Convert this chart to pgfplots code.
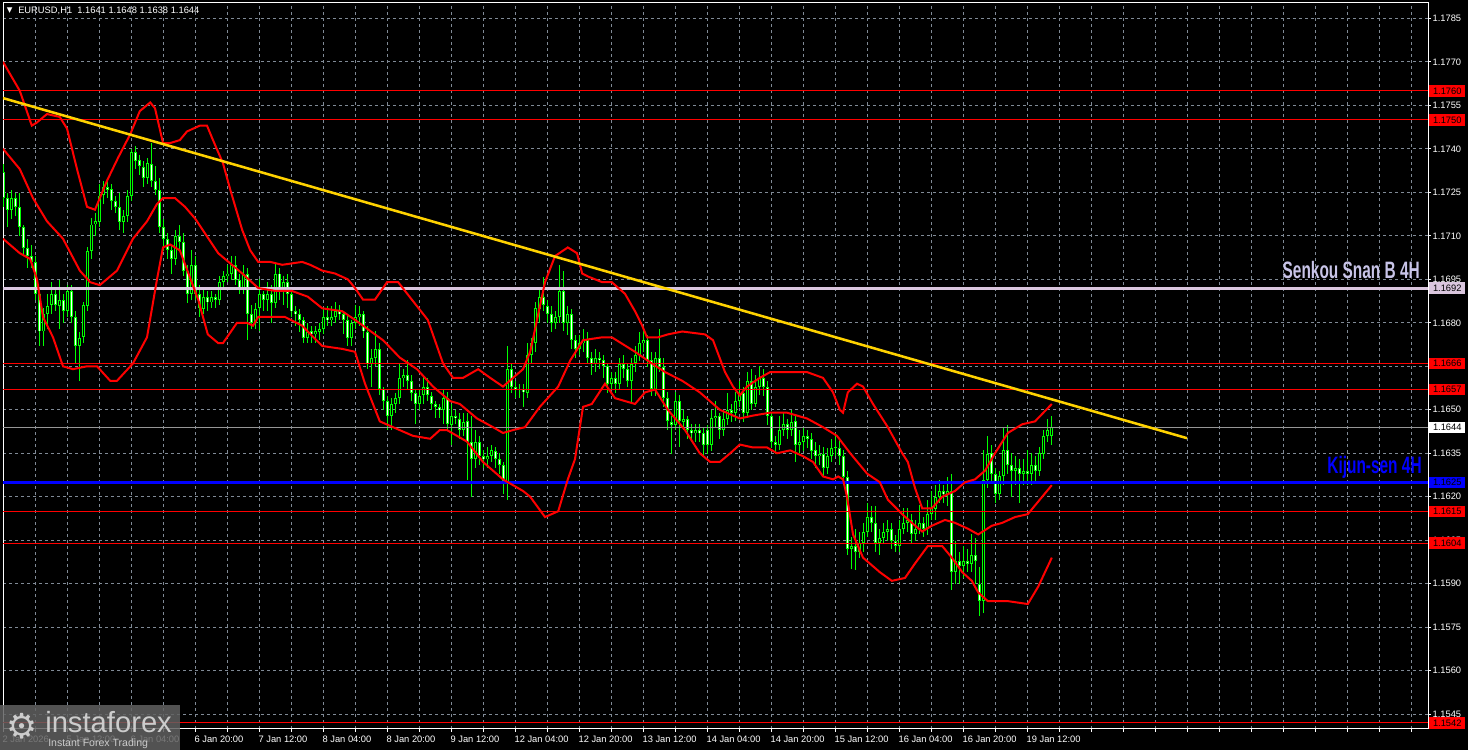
\documentclass[border=0pt]{standalone}
\usepackage{fontspec}
\setmainfont{Liberation Sans}
\newfontfamily\dejavu{DejaVu Sans}
\usepackage{pgfplots}
\usepackage{pgfplotstable}
\pgfplotsset{compat=1.18}

\definecolor{gridc}{RGB}{128,138,150}
\definecolor{candle}{RGB}{0,255,0}
\definecolor{mtred}{RGB}{255,0,0}
\definecolor{senkou}{RGB}{218,198,222}
\definecolor{senkoutxt}{RGB}{200,196,232}
\definecolor{kijun}{RGB}{0,0,255}
\definecolor{trend}{RGB}{255,210,0}
\definecolor{pricegray}{RGB}{150,150,150}

% EURUSD H1, bar index, open high low close
\pgfplotstableread{
i o h l c
0 1.1732 1.1735 1.1720 1.1723
1 1.1723 1.1725 1.1713 1.1719
2 1.1719 1.1726 1.1716 1.1723
3 1.1723 1.1725 1.1717 1.1720
4 1.1720 1.1725 1.1710 1.1713
5 1.1713 1.1714 1.1703 1.1706
6 1.1706 1.1709 1.1699 1.1703
7 1.1703 1.1707 1.1699 1.1701
8 1.1701 1.1703 1.1688 1.1690
9 1.1690 1.1692 1.1672 1.1677
10 1.1677 1.1685 1.1672 1.1683
11 1.1683 1.1690 1.1678 1.1686
12 1.1686 1.1694 1.1683 1.1690
13 1.1690 1.1692 1.1684 1.1686
14 1.1686 1.1695 1.1678 1.1688
15 1.1688 1.1690 1.1680 1.1684
16 1.1684 1.1693 1.1682 1.1691
17 1.1691 1.1693 1.1680 1.1682
18 1.1682 1.1684 1.1666 1.1672
19 1.1672 1.1677 1.1660 1.1675
20 1.1675 1.1687 1.1673 1.1686
21 1.1686 1.1706 1.1684 1.1705
22 1.1705 1.1716 1.1702 1.1714
23 1.1714 1.1718 1.1710 1.1715
24 1.1715 1.1728 1.1713 1.1724
25 1.1724 1.1729 1.1721 1.1727
26 1.1727 1.1729 1.1723 1.1726
27 1.1726 1.1728 1.1719 1.1722
28 1.1722 1.1724 1.1718 1.1720
29 1.1720 1.1725 1.1712 1.1715
30 1.1715 1.1719 1.1711 1.1717
31 1.1717 1.1726 1.1715 1.1724
32 1.1724 1.1740 1.1722 1.1739
33 1.1739 1.1741 1.1733 1.1736
34 1.1736 1.1738 1.1731 1.1734
35 1.1734 1.1736 1.1727 1.1730
36 1.1730 1.1737 1.1728 1.1735
37 1.1735 1.1742 1.1727 1.1729
38 1.1729 1.1734 1.1724 1.1726
39 1.1726 1.1730 1.1711 1.1713
40 1.1713 1.1716 1.1705 1.1709
41 1.1709 1.1711 1.1702 1.1705
42 1.1705 1.1707 1.1697 1.1702
43 1.1702 1.1712 1.1700 1.1710
44 1.1710 1.1714 1.1705 1.1708
45 1.1708 1.1711 1.1696 1.1698
46 1.1698 1.1700 1.1687 1.1690
47 1.1690 1.1705 1.1688 1.1700
48 1.1700 1.1703 1.1688 1.1690
49 1.1690 1.1693 1.1682 1.1685
50 1.1685 1.1692 1.1683 1.1689
51 1.1689 1.1691 1.1684 1.1687
52 1.1687 1.1691 1.1685 1.1689
53 1.1689 1.1690 1.1685 1.1688
54 1.1688 1.1696 1.1686 1.1694
55 1.1694 1.1698 1.1692 1.1696
56 1.1696 1.1700 1.1694 1.1697
57 1.1697 1.1703 1.1695 1.1700
58 1.1700 1.1703 1.1693 1.1695
59 1.1695 1.1697 1.1690 1.1692
60 1.1692 1.1700 1.1690 1.1697
61 1.1697 1.1699 1.1674 1.1683
62 1.1683 1.1686 1.1678 1.1680
63 1.1680 1.1687 1.1678 1.1685
64 1.1685 1.1695 1.1677 1.1690
65 1.1690 1.1691 1.1684 1.1688
66 1.1688 1.1694 1.1684 1.1690
67 1.1690 1.1693 1.1680 1.1687
68 1.1687 1.1701 1.1685 1.1697
69 1.1697 1.1699 1.1688 1.1692
70 1.1692 1.1696 1.1686 1.1694
71 1.1694 1.1697 1.1685 1.1690
72 1.1690 1.1692 1.1682 1.1684
73 1.1684 1.1686 1.1679 1.1683
74 1.1683 1.1685 1.1677 1.1681
75 1.1681 1.1682 1.1673 1.1675
76 1.1675 1.1680 1.1673 1.1677
77 1.1677 1.1679 1.1673 1.1676
78 1.1676 1.1679 1.1673 1.1677
79 1.1677 1.1680 1.1674 1.1678
80 1.1678 1.1685 1.1676 1.1682
81 1.1682 1.1686 1.1679 1.1681
82 1.1681 1.1686 1.1679 1.1682
83 1.1682 1.1687 1.1680 1.1684
84 1.1684 1.1686 1.1681 1.1683
85 1.1683 1.1684 1.1676 1.1681
86 1.1681 1.1683 1.1672 1.1675
87 1.1675 1.1681 1.1672 1.1680
88 1.1680 1.1686 1.1678 1.1682
89 1.1682 1.1686 1.1679 1.1683
90 1.1683 1.1684 1.1675 1.1677
91 1.1677 1.1679 1.1664 1.1666
92 1.1666 1.1671 1.1658 1.1668
93 1.1668 1.1677 1.1665 1.1671
94 1.1671 1.1673 1.1655 1.1657
95 1.1657 1.1658 1.1650 1.1653
96 1.1653 1.1655 1.1643 1.1648
97 1.1648 1.1654 1.1643 1.1652
98 1.1652 1.1656 1.1649 1.1654
99 1.1654 1.1666 1.1652 1.1661
100 1.1661 1.1664 1.1658 1.1662
101 1.1662 1.1667 1.1657 1.1660
102 1.1660 1.1662 1.1653 1.1656
103 1.1656 1.1657 1.1645 1.1652
104 1.1652 1.1657 1.1650 1.1655
105 1.1655 1.1662 1.1652 1.1658
106 1.1658 1.1661 1.1653 1.1655
107 1.1655 1.1656 1.1650 1.1652
108 1.1652 1.1653 1.1647 1.1651
109 1.1651 1.1652 1.1647 1.1650
110 1.1650 1.1657 1.1645 1.1654
111 1.1654 1.1656 1.1643 1.1645
112 1.1645 1.1652 1.1638 1.1648
113 1.1648 1.1650 1.1645 1.1647
114 1.1647 1.1649 1.1640 1.1643
115 1.1643 1.1649 1.1641 1.1646
116 1.1646 1.1649 1.1626 1.1639
117 1.1639 1.1648 1.1620 1.1633
118 1.1633 1.1643 1.1630 1.1639
119 1.1639 1.1641 1.1631 1.1634
120 1.1634 1.1636 1.1630 1.1633
121 1.1633 1.1637 1.1630 1.1634
122 1.1634 1.1638 1.1632 1.1636
123 1.1636 1.1637 1.1630 1.1633
124 1.1633 1.1635 1.1628 1.1631
125 1.1631 1.1632 1.1621 1.1625
126 1.1625 1.1672 1.1619 1.1664
127 1.1664 1.1666 1.1656 1.1658
128 1.1658 1.1660 1.1654 1.1657
129 1.1657 1.1659 1.1654 1.1657
130 1.1657 1.1659 1.1651 1.1656
131 1.1656 1.1673 1.1654 1.1669
132 1.1669 1.1675 1.1666 1.1673
133 1.1673 1.1687 1.1670 1.1685
134 1.1685 1.1692 1.1680 1.1689
135 1.1689 1.1696 1.1684 1.1686
136 1.1686 1.1688 1.1680 1.1683
137 1.1683 1.1686 1.1677 1.1680
138 1.1680 1.1684 1.1678 1.1682
139 1.1682 1.1700 1.1680 1.1691
140 1.1691 1.1698 1.1677 1.1680
141 1.1680 1.1686 1.1676 1.1683
142 1.1683 1.1685 1.1671 1.1674
143 1.1674 1.1676 1.1668 1.1671
144 1.1671 1.1676 1.1669 1.1673
145 1.1673 1.1678 1.1670 1.1674
146 1.1674 1.1677 1.1666 1.1668
147 1.1668 1.1670 1.1662 1.1666
148 1.1666 1.1671 1.1663 1.1668
149 1.1668 1.1670 1.1664 1.1667
150 1.1667 1.1669 1.1661 1.1665
151 1.1665 1.1666 1.1656 1.1659
152 1.1659 1.1663 1.1657 1.1661
153 1.1661 1.1663 1.1656 1.1659
154 1.1659 1.1668 1.1657 1.1666
155 1.1666 1.1669 1.1661 1.1664
156 1.1664 1.1666 1.1658 1.1660
157 1.1660 1.1668 1.1652 1.1666
158 1.1666 1.1672 1.1663 1.1669
159 1.1669 1.1677 1.1667 1.1673
160 1.1673 1.1678 1.1670 1.1674
161 1.1674 1.1676 1.1665 1.1667
162 1.1667 1.1670 1.1655 1.1657
163 1.1657 1.1670 1.1655 1.1668
164 1.1668 1.1678 1.1663 1.1665
165 1.1665 1.1668 1.1651 1.1654
166 1.1654 1.1656 1.1643 1.1646
167 1.1646 1.1648 1.1635 1.1645
168 1.1645 1.1656 1.1643 1.1653
169 1.1653 1.1655 1.1637 1.1646
170 1.1646 1.1650 1.1643 1.1647
171 1.1647 1.1648 1.1640 1.1643
172 1.1643 1.1645 1.1639 1.1642
173 1.1642 1.1645 1.1639 1.1643
174 1.1643 1.1645 1.1639 1.1642
175 1.1642 1.1644 1.1634 1.1638
176 1.1643 1.1645 1.1635 1.1638
177 1.1638 1.1650 1.1636 1.1647
178 1.1647 1.1653 1.1644 1.1648
179 1.1648 1.1649 1.1640 1.1643
180 1.1643 1.1650 1.1641 1.1647
181 1.1647 1.1656 1.1645 1.1650
182 1.1650 1.1652 1.1646 1.1649
183 1.1649 1.1656 1.1646 1.1653
184 1.1653 1.1660 1.1651 1.1656
185 1.1656 1.1658 1.1646 1.1649
186 1.1649 1.1663 1.1647 1.1660
187 1.1660 1.1664 1.1650 1.1652
188 1.1652 1.1662 1.1651 1.1658
189 1.1658 1.1665 1.1655 1.1661
190 1.1661 1.1664 1.1655 1.1658
191 1.1658 1.1660 1.1645 1.1648
192 1.1648 1.1649 1.1637 1.1639
193 1.1639 1.1641 1.1635 1.1638
194 1.1638 1.1648 1.1636 1.1643
195 1.1643 1.1649 1.1641 1.1645
196 1.1645 1.1647 1.1640 1.1643
197 1.1643 1.1650 1.1641 1.1646
198 1.1646 1.1648 1.1632 1.1638
199 1.1638 1.1643 1.1635 1.1639
200 1.1639 1.1644 1.1636 1.1641
201 1.1641 1.1643 1.1637 1.1640
202 1.1640 1.1642 1.1633 1.1636
203 1.1636 1.1639 1.1630 1.1634
204 1.1634 1.1638 1.1631 1.1635
205 1.1635 1.1637 1.1627 1.1630
206 1.1630 1.1637 1.1628 1.1634
207 1.1634 1.1640 1.1632 1.1637
208 1.1637 1.1642 1.1634 1.1637
209 1.1637 1.1640 1.1631 1.1634
210 1.1634 1.1636 1.1624 1.1627
211 1.1627 1.1629 1.1600 1.1602
212 1.1602 1.1606 1.1595 1.1603
213 1.1603 1.1609 1.1595 1.1601
214 1.1601 1.1608 1.1599 1.1604
215 1.1604 1.1611 1.1601 1.1608
216 1.1608 1.1618 1.1606 1.1613
217 1.1613 1.1617 1.1608 1.1611
218 1.1611 1.1617 1.1601 1.1604
219 1.1604 1.1609 1.1600 1.1606
220 1.1606 1.1611 1.1604 1.1608
221 1.1608 1.1612 1.1605 1.1609
222 1.1609 1.1611 1.1602 1.1605
223 1.1605 1.1607 1.1601 1.1603
224 1.1603 1.1612 1.1601 1.1609
225 1.1609 1.1616 1.1607 1.1611
226 1.1611 1.1616 1.1608 1.1612
227 1.1612 1.1614 1.1604 1.1607
228 1.1607 1.1612 1.1605 1.1609
229 1.1609 1.1617 1.1607 1.1611
230 1.1611 1.1613 1.1606 1.1609
231 1.1609 1.1619 1.1607 1.1614
232 1.1614 1.1622 1.1612 1.1616
233 1.1616 1.1624 1.1612 1.1620
234 1.1620 1.1626 1.1618 1.1622
235 1.1622 1.1624 1.1618 1.1621
236 1.1621 1.1627 1.1617 1.1622
237 1.1622 1.1628 1.1588 1.1594
238 1.1594 1.1605 1.1590 1.1598
239 1.1598 1.1601 1.1590 1.1596
240 1.1596 1.1603 1.1592 1.1598
241 1.1598 1.1602 1.1594 1.1597
242 1.1597 1.1607 1.1594 1.1600
243 1.1600 1.1606 1.1590 1.1598
244 1.1590 1.1596 1.1579 1.1584
245 1.1584 1.1636 1.1580 1.1626
246 1.1626 1.1641 1.1623 1.1635
247 1.1635 1.1638 1.1625 1.1628
248 1.1628 1.1630 1.1618 1.1621
249 1.1621 1.1629 1.1619 1.1627
250 1.1627 1.1644 1.1624 1.1636
251 1.1636 1.1645 1.1628 1.1631
252 1.1631 1.1635 1.1620 1.1629
253 1.1629 1.1634 1.1624 1.1630
254 1.1630 1.1633 1.1618 1.1628
255 1.1628 1.1633 1.1624 1.1629
256 1.1629 1.1636 1.1624 1.1628
257 1.1628 1.1635 1.1624 1.1631
258 1.1631 1.1634 1.1625 1.1629
259 1.1629 1.1637 1.1627 1.1635
260 1.1635 1.1643 1.1633 1.1641
261 1.1641 1.1647 1.1639 1.1643
262 1.1641 1.1648 1.1638 1.1644
}\ohlc

\begin{document}
\begin{tikzpicture}
\fill[black] (0,0) rectangle (1101pt,562.5pt);
\useasboundingbox (0,0) rectangle (1101pt,562.5pt);
\begin{axis}[
    at={(2.25pt,15.75pt)}, anchor=south west,
    scale only axis, width=1068.75pt, height=544.5pt,
    xmin=0, xmax=356.25, ymin=1.15399, ymax=1.17903,
    clip mode=individual,
    axis line style={white, line width=0.75pt},
    tick align=outside,
    major tick length=2.25pt, minor tick length=2.25pt,
    tick style={white, line width=0.75pt},
    xtick pos=bottom, ytick pos=right, yticklabel pos=right,
    xtick={0,16,...,256},
    xticklabels={2 Jan 2026,5 Jan 12:00,6 Jan 04:00,6 Jan 20:00,7 Jan 12:00,8 Jan 04:00,8 Jan 20:00,9 Jan 12:00,12 Jan 04:00,12 Jan 20:00,13 Jan 12:00,14 Jan 04:00,14 Jan 20:00,15 Jan 12:00,16 Jan 04:00,16 Jan 20:00,19 Jan 12:00},
    minor xtick={0,8,...,352},
    ytick={1.1545,1.1560,1.1575,1.1590,1.1605,1.1620,1.1635,1.1650,1.1665,1.1680,1.1695,1.1710,1.1725,1.1740,1.1755,1.1770,1.1785},
    xmajorgrids=false, xminorgrids=true, ymajorgrids=true,
    grid style={gridc, line width=0.75pt, dash pattern=on 2.25pt off 2.25pt},
    minor grid style={gridc, line width=0.75pt, dash pattern=on 2.25pt off 2.25pt},
    ticklabel style={font=\fontsize{7}{8}\selectfont, text=white},
    xticklabel style={anchor=north west, inner sep=0pt, xshift=-0.5pt, yshift=-2.5pt},
    yticklabel style={anchor=west, inner sep=0pt, xshift=1pt,
        /pgf/number format/.cd, fixed, fixed zerofill, precision=4, assume math mode=true},
]
% wicks
\addplot[draw=none, mark=none, forget plot,
    error bars/.cd, y dir=both, y explicit, error mark=none,
    error bar style={draw=candle, solid, line width=0.75pt}]
    table[x=i, y expr={(\thisrow{h}+\thisrow{l})/2}, y error expr={(\thisrow{h}-\thisrow{l})/2}] {\ohlc};
% bodies
\addplot[draw=none, mark=none, forget plot,
    error bars/.cd, y dir=both, y explicit, error mark=none,
    error bar style={draw=candle, solid, line width=2.25pt}]
    table[x=i, y expr={(\thisrow{o}+\thisrow{c})/2}, y error expr={max(abs(\thisrow{o}-\thisrow{c})/2,0.00002)}] {\ohlc};
% hollow inside of the bodies
\addplot[draw=none, mark=none, forget plot,
    error bars/.cd, y dir=both, y explicit, error mark=none,
    error bar style={draw=black, solid, line width=0.75pt}]
    table[x=i, y expr={(\thisrow{o}+\thisrow{c})/2}, y error expr={max(abs(\thisrow{o}-\thisrow{c})/2-0.000034,0)}] {\ohlc};
% bear candles are white inside
\addplot[draw=none, mark=none, forget plot, restrict y to domain=1:2,
    error bars/.cd, y dir=both, y explicit, error mark=none,
    error bar style={draw=white, solid, line width=0.75pt}]
    table[x=i, y expr={(\thisrow{o}+\thisrow{c})/2+100*(\thisrow{c}>\thisrow{o})}, y error expr={max(abs(\thisrow{o}-\thisrow{c})/2-0.000034,0)}] {\ohlc};

% levels
\addplot[mtred, line width=0.75pt] coordinates {(0,1.1760) (356.25,1.1760)};
\addplot[mtred, line width=0.75pt] coordinates {(0,1.1750) (356.25,1.1750)};
\addplot[mtred, line width=0.75pt] coordinates {(0,1.1666) (356.25,1.1666)};
\addplot[mtred, line width=0.75pt] coordinates {(0,1.1657) (356.25,1.1657)};
\addplot[mtred, line width=0.75pt] coordinates {(0,1.1615) (356.25,1.1615)};
\addplot[mtred, line width=0.75pt] coordinates {(0,1.1604) (356.25,1.1604)};
\addplot[mtred, line width=0.75pt] coordinates {(0,1.1542) (356.25,1.1542)};
\addplot[pricegray, line width=0.75pt] coordinates {(0,1.1644) (356.25,1.1644)};
\addplot[senkou, line width=2.25pt] coordinates {(0,1.1692) (356.25,1.1692)};
\addplot[kijun, line width=2.6pt] coordinates {(0,1.1625) (356.25,1.1625)};

% Bollinger bands
\addplot[mtred, line width=1.5pt] coordinates {
(0,1.1770) (4.2,1.1760) (7.2,1.1748) (8.4,1.1749) (11,1.1752) (14.2,1.1751) (16,1.1747) (18.5,1.1733) (21,1.1720) (23,1.1719) (26,1.1729) (28.8,1.1737) (31.8,1.1745) (34.2,1.1753) (36.8,1.1756) (38,1.1754) (40,1.1742) (41.8,1.1742) (44.2,1.1743) (46,1.1746) (49.2,1.1748) (51,1.1748) (52.5,1.1743) (55,1.1735) (56.8,1.1726) (59.8,1.1712) (61.8,1.1705) (63.8,1.1701) (66.8,1.1701) (69.8,1.1700) (74.8,1.1701) (76.8,1.1700) (79.8,1.1698) (83,1.1697) (86.2,1.1695) (88,1.1692) (90,1.1688) (93,1.1688) (96,1.1694) (98.8,1.1694) (102.2,1.1688) (106.2,1.1681) (110,1.1666) (112.5,1.1661) (115,1.1661) (118.8,1.1664) (121.8,1.1661) (125,1.1658) (127.5,1.1661) (130,1.1664) (131.8,1.1670) (133.5,1.1681) (135.5,1.1694) (138,1.1703) (141.2,1.1706) (143.5,1.1704) (144.8,1.1697) (146.2,1.1696) (149.8,1.1694) (152.2,1.1694) (155.5,1.1690) (158,1.1684) (159.8,1.1679) (161,1.1675) (163.8,1.1675) (166.2,1.1676) (169.8,1.1677) (175.5,1.1676) (177.5,1.1674) (180.5,1.1663) (182.5,1.1658) (184.2,1.1655) (186,1.1658) (189.2,1.1661) (191.8,1.1663) (196.8,1.1663) (201,1.1663) (205,1.1661) (207.5,1.1656) (209.2,1.1650) (210,1.1649) (211.2,1.1656) (213.5,1.1659) (215,1.1658) (217.5,1.1652) (221.2,1.1644) (224.8,1.1635) (226.2,1.1632) (228,1.1623) (229.8,1.1616) (232.2,1.1616) (234.8,1.1620) (238,1.1622) (240.5,1.1625) (243,1.1626) (245.5,1.1629) (248,1.1635) (251.2,1.1642) (254.8,1.1645) (258,1.1646) (262.2,1.1652)
};
\addplot[mtred, line width=1.5pt] coordinates {
(0,1.1740) (4.2,1.1733) (7.5,1.1723) (11,1.1715) (15,1.1709) (19.2,1.1698) (21.8,1.1694) (24.2,1.1693) (28.5,1.1698) (32.5,1.1709) (36,1.1715) (38.5,1.1721) (40,1.1723) (43,1.1723) (45.5,1.1720) (48,1.1716) (53.8,1.1704) (59.8,1.1697) (63.8,1.1692) (68,1.1691) (72.2,1.1691) (76.2,1.1689) (79.8,1.1685) (84.8,1.1684) (88,1.1681) (95,1.1674) (99.2,1.1668) (103.5,1.1664) (107.5,1.1658) (111.8,1.1653) (114.2,1.1652) (118.5,1.1647) (122.5,1.1644) (125,1.1642) (127.5,1.1643) (130.5,1.1644) (134.2,1.1651) (138.8,1.1658) (141.8,1.1667) (145,1.1674) (149.8,1.1675) (152.2,1.1675) (158,1.1670) (162.2,1.1666) (165.5,1.1663) (169.8,1.1660) (174.2,1.1656) (179.2,1.1650) (184.2,1.1647) (187.5,1.1648) (191.8,1.1649) (196,1.1649) (201,1.1647) (205,1.1644) (208.5,1.1641) (211.8,1.1635) (216,1.1628) (219.2,1.1625) (221.2,1.1619) (224.8,1.1614) (227.2,1.1611) (229.8,1.1608) (232.2,1.1610) (235.5,1.1612) (238,1.1611) (241.2,1.1609) (243.8,1.1607) (247.2,1.1610) (249.8,1.1611) (253,1.1613) (256.2,1.1614) (259.8,1.1620) (262.2,1.1624)
};
\addplot[mtred, line width=1.5pt] coordinates {
(0,1.1709) (4.2,1.1704) (6.8,1.1702) (8.5,1.1695) (10,1.1682) (12.5,1.1675) (15,1.1665) (17.5,1.1664) (21,1.1665) (23.5,1.1665) (26.8,1.1660) (28.5,1.1660) (32.5,1.1666) (36,1.1675) (38.5,1.1695) (40,1.1706) (41.8,1.1707) (44.2,1.1705) (48.8,1.1688) (51.2,1.1676) (53.8,1.1673) (55,1.1673) (58.5,1.1680) (61,1.1680) (62.5,1.1679) (63.8,1.1682) (70.5,1.1682) (74.8,1.1679) (76.2,1.1677) (79.8,1.1672) (84.8,1.1671) (88,1.1670) (90.5,1.1659) (94.2,1.1646) (97.5,1.1644) (102.5,1.1641) (106.8,1.1640) (109.2,1.1643) (111,1.1643) (116,1.1639) (120,1.1632) (125,1.1626) (130,1.1622) (131.8,1.1620) (135.5,1.1613) (138.8,1.1615) (141.2,1.1626) (143,1.1633) (145,1.1651) (147.2,1.1652) (150.5,1.1659) (153,1.1654) (158,1.1652) (160.5,1.1656) (163,1.1657) (166.2,1.1650) (170.5,1.1643) (174.2,1.1635) (176.8,1.1632) (179.2,1.1632) (181.8,1.1635) (184.2,1.1638) (187.5,1.1637) (191,1.1637) (193.5,1.1635) (196.8,1.1636) (200,1.1634) (202.5,1.1632) (205,1.1627) (207.5,1.1626) (208.8,1.1627) (210,1.1626) (211,1.1620) (212.5,1.1607) (215,1.1599) (219.2,1.1594) (222.2,1.1591) (225.5,1.1592) (228,1.1597) (231.2,1.1603) (234.8,1.1603) (237.2,1.1599) (239.8,1.1594) (242.2,1.1591) (243.8,1.1587) (246.2,1.1584) (251.2,1.1584) (256.2,1.1583) (258.8,1.1589) (262.2,1.1599)
};
% trend line
\addplot[trend, line width=1.9pt] coordinates {(0,1.17575) (296,1.16402)};

\node[anchor=base east, inner sep=0pt, xscale=0.65, text=senkoutxt,
      font=\bfseries\fontsize{17.8}{18}\selectfont] at (axis cs:354.25,1.16954) {Senkou Snan B 4H};
\node[anchor=base east, inner sep=0pt, xscale=0.65, text=kijun,
      font=\bfseries\fontsize{17.8}{18}\selectfont] at (axis cs:354.7,1.16281) {Kijun-sen 4H};

\coordinate (p1760) at (axis cs:356.25,1.1760);
\coordinate (p1750) at (axis cs:356.25,1.1750);
\coordinate (p1692) at (axis cs:356.25,1.1692);
\coordinate (p1666) at (axis cs:356.25,1.1666);
\coordinate (p1657) at (axis cs:356.25,1.1657);
\coordinate (p1644) at (axis cs:356.25,1.1644);
\coordinate (p1625) at (axis cs:356.25,1.1625);
\coordinate (p1615) at (axis cs:356.25,1.1615);
\coordinate (p1604) at (axis cs:356.25,1.1604);
\coordinate (p1542) at (axis cs:356.25,1.1542);
\end{axis}

% price labels on the scale
\tikzset{pbox/.style={anchor=west, xshift=0.75pt, inner sep=0pt, minimum width=27pt,
    minimum height=8.5pt, text=black, font=\fontsize{7}{8}\selectfont}}
\node[pbox, fill=mtred] at (p1760) {1.1760};
\node[pbox, fill=mtred] at (p1750) {1.1750};
\node[pbox, fill=senkou] at (p1692) {1.1692};
\node[pbox, fill=mtred] at (p1666) {1.1666};
\node[pbox, fill=mtred] at (p1657) {1.1657};
\node[pbox, fill=white] at (p1644) {1.1644};
\node[pbox, fill=kijun] at (p1625) {1.1625};
\node[pbox, fill=mtred] at (p1615) {1.1615};
\node[pbox, fill=mtred] at (p1604) {1.1604};
\node[pbox, fill=mtred] at (p1542) {1.1542};

% chart header
\node[anchor=west, inner sep=0pt, text=white, font=\dejavu\fontsize{5.5}{6}\selectfont] at (5pt,554.25pt) {▼};
\node[anchor=west, inner sep=0pt, text=white, font=\fontsize{7}{8}\selectfont] at (13.5pt,554.25pt) {EURUSD,H1\ \ 1.1641 1.1648 1.1638 1.1644};

% watermark
\fill[black!62, opacity=0.85] (0,0) rectangle (135pt,33.75pt);
\node[anchor=center, inner sep=0pt, text=black!20, font=\dejavu\fontsize{26}{26}\selectfont] at (16.5pt,18pt) {⚙};
\node[anchor=base west, inner sep=0pt, text=black!20, font=\fontsize{21.9}{22}\selectfont] at (33.75pt,12.75pt) {instaforex};
\node[anchor=base west, inner sep=0pt, text=black!20, font=\fontsize{7.9}{8}\selectfont] at (36pt,2.25pt) {Instant Forex Trading};
\end{tikzpicture}
\end{document}
